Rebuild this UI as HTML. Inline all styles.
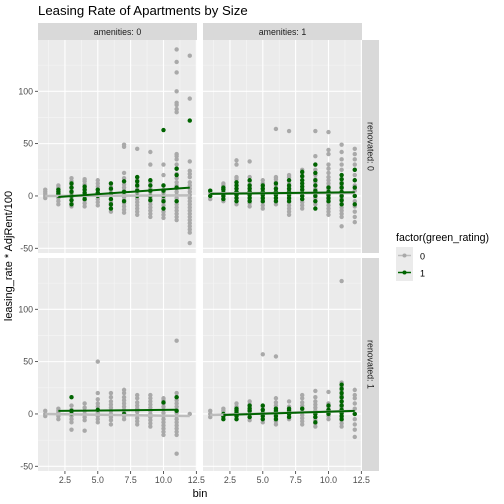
<!DOCTYPE html>
<html><head><meta charset="utf-8"><style>
body{margin:0;background:#fff}
svg{display:block;font-family:"Liberation Sans",sans-serif}
</style></head><body>
<svg id="c" width="504" height="504" viewBox="0 0 504 504">
<text x="38" y="15" font-size="13.2" fill="#000">Leasing Rate of Apartments by Size</text>
<text transform="translate(12,256) rotate(-90)" text-anchor="middle" font-size="11">leasing_rate * AdjRent/100</text>
<text x="200" y="497" text-anchor="middle" font-size="11">bin</text>
<g>
<text x="396" y="241" font-size="10.6">factor(green_rating)</text>
<rect x="396" y="247" width="17" height="17" fill="#ebebeb"/>
<line x1="398" y1="255.5" x2="411" y2="255.5" stroke="#bdbdbd" stroke-width="1.5"/>
<circle cx="404.5" cy="255.5" r="2" fill="#a9a9a9"/>
<text x="420" y="259.5" font-size="9">0</text>
<rect x="396" y="264" width="17" height="17" fill="#ebebeb"/>
<line x1="398" y1="272.5" x2="411" y2="272.5" stroke="#006400" stroke-width="1.5"/>
<circle cx="404.5" cy="272.5" r="2" fill="#006400"/>
<text x="420" y="276.5" font-size="9">1</text>
</g>
<g id="panels"></g>
</svg>
<script>
const xTicks=[2.5,5,7.5,10,12.5];
const xTickLabels=["2.5","5.0","7.5","10.0","12.5"];
const yTicks=[-50,0,50,100];
const yTickLabels=["-50","0","50","100"];
const colLabels=["amenities: 0","amenities: 1"];
const rowLabels=["renovated: 0","renovated: 1"];
const grayTL=[[1,[-2,0,2,4,6]],[2,[-8,-5,-2,0,2,4,6,8,10]],[3,[-10,-7,-4,-1,2,5,8,11,14,17]],[4,[-10,-7,-4,-1,2,5,8,11,14,16]],[5,[-9,-6,-3,0,3,6,9,12,15]],[6,[-15,-12,-9,-6,-3,0,3,6,9,12]],[7,[-16,-13,-10,-7,-4,-1,2,5,8,11,14,17,22,47,49]],[8,[-18,-15,-12,-9,-6,-3,0,3,6,9,12,15,18,45]],[9,[-20,-17,-14,-11,-8,-5,-2,1,4,7,10,13,15,30,42]],[10,[-21,-18,-15,-12,-9,-6,-3,0,3,6,10,20,30]],[11,[-23,-20,-17,-14,-11,-8,-5,-2,1,4,7,10,13,17,21,26,30,35,38,40,80,83,87,89,100,118,128,140]],[12,[-45,-35,-32,-29,-26,-23,-20,-17,-14,-11,-8,-5,-2,1,4,7,10,13,18,21,24,33,93,134]]];
const greenTL=[[2,[0,2,4,6]],[3,[-8,-4,0,4,8,12]],[4,[-3,0,3,6,9]],[5,[0,3,6]],[6,[-12,-8,-3,2,7,12]],[7,[-5,4,14]],[8,[0,5,10,14,18]],[9,[-4,0,5,10,15]],[10,[-12,-5,0,5,10,63]],[11,[-5,8,20,26]],[12,[72]]];
const grayTR=[[1,[-3,0,3,5]],[2,[-5,-2,1,4,7,10,12]],[3,[-8,-5,-2,1,4,7,10,13,16,18,30,34]],[4,[-10,-7,-4,-1,2,5,8,11,14,18,33]],[5,[-12,-9,-6,-3,0,3,6,9,12,15]],[6,[-8,-5,-2,1,4,7,10,13,16,18,64]],[7,[-18,-15,-12,-9,-6,-3,0,3,6,9,12,15,18,20,62]],[8,[-12,-9,-6,-3,0,3,6,9,12,15,18,22,25]],[9,[-8,-5,-2,1,4,7,10,13,16,20,25,30,38,62]],[10,[-18,-15,-12,-9,-6,-3,0,3,6,9,12,15,18,22,26,30,40,44,61]],[11,[-29,-20,-17,-14,-11,-8,-5,-2,1,4,7,10,13,16,20,25,30,35,42,49]],[12,[-25,-20,-15,-10,-5,0,5,10,15,20,25,30,35,40,45]]];
const greenTR=[[1,[0,5]],[2,[-3,0,3,6,8]],[3,[-5,-2,1,4,7,10,13]],[4,[-5,-2,1,4,7,10,15]],[5,[-5,-2,1,4,7,10]],[6,[-5,-2,1,4,7,12]],[7,[-5,-2,1,4,7,10,15]],[8,[-3,0,3,6,9,12,15,19,23]],[9,[-12,-5,0,5,10,15,22,30]],[10,[-5,-2,1,4,8]],[11,[-8,-4,0,4,8,12,16,20]],[12,[-8,0,8,15,25]]];
const grayBL=[[1,[-2,0,3]],[2,[-5,-2,1,3,5]],[3,[-15,-8,-5,-2,1,4,8]],[4,[-16,-6,-3,0,3,6,10]],[5,[-8,-5,-2,1,4,7,10,14,20,50]],[6,[-10,-6,-3,0,3,6,9,12,16,20]],[7,[-5,-2,1,4,7,10,13,16,20,23]],[8,[-10,-7,-4,-1,2,5,8,11,15,18]],[9,[-12,-9,-6,-3,0,3,6,9,12,15,18]],[10,[-20,-17,-14,-11,-8,-5,-2,1,4,7,10,13,15]],[11,[-38,-20,-17,-14,-11,-8,-5,-2,1,4,7,10,13,16,20,70]],[12,[0]]];
const greenBL=[[3,[0,3,16]],[5,[4]],[7,[0]],[10,[11]],[11,[3,16]]];
const grayBR=[[1,[-3,0,3]],[2,[-3,0,3,5]],[3,[-5,-2,1,4,7,10]],[4,[-6,-3,0,3,6,9,12]],[5,[-8,-5,-2,1,4,7,57]],[6,[-10,-7,-4,-1,2,5,8,11,15,55]],[7,[-5,-2,1,4,7,12]],[8,[-10,-7,-4,-1,2,5,8,11,15,18]],[9,[-12,-9,-6,-3,0,3,6,9,12,16,22]],[10,[-5,-2,1,4,7,10,21]],[11,[-12,-9,-6,-3,0,3,6,9,12,15,18,22,26,30,127]],[12,[-22,-15,-10,-5,0,5,10,15,18,23]]];
const greenBR=[[2,[-5,-2,0]],[3,[-5,-2,1,3,5]],[4,[-3,0,3,5,8]],[5,[-5,-2,1,4,8]],[6,[-5,-2,1,3,5]],[7,[-3,0,3,5]],[8,[5]],[9,[-8,-3,0]],[10,[0,4,8]],[11,[-5,-2,1,4,8,12,16,20,24,28]],[12,[0]]];
const fitGray=[[1,0,12,0.5],[1,2.5,12,3],[1,0,12,-2],[1,-1,12,3]];
const fitGreen=[[2,-1,12,8],[1,2,12,3.5],[2,3,11,4],[2,-1,12,3]];
const panelsData=[[grayTL,greenTL],[grayTR,greenTR],[grayBL,greenBL],[grayBR,greenBR]];

const NS="http://www.w3.org/2000/svg";
const root=document.getElementById('panels');
function mk(tag,attrs,parent){const e=document.createElementNS(NS,tag);for(const k in attrs)e.setAttribute(k,attrs[k]);(parent||root).appendChild(e);return e;}
const colX=[38,203],rowY=[40,258],PW=159,PH=213;
const xMin=0.45,xMax=12.55,yMin=-54.5,yMax=149;
for(let r=0;r<2;r++)for(let c=0;c<2;c++){
  const idx=r*2+c,x0=colX[c],y0=rowY[r];
  const sx=v=>x0+(v-xMin)/(xMax-xMin)*PW;
  const sy=v=>y0+PH-(v-yMin)/(yMax-yMin)*PH;
  const g=mk('g',{});
  
  
  mk('rect',{x:x0,y:y0,width:PW,height:PH,fill:'#ebebeb'},g);
  for(let i=0;i<xTicks.length;i++){const m=xTicks[i]-1.25;if(m>xMin&&m<xMax)mk('line',{x1:sx(m),x2:sx(m),y1:y0,y2:y0+PH,stroke:'#f6f6f6','stroke-width':0.6},g);}
  for(let i=0;i<yTicks.length;i++){const m=yTicks[i]+25;if(m<yMax)mk('line',{x1:x0,x2:x0+PW,y1:sy(m),y2:sy(m),stroke:'#f6f6f6','stroke-width':0.6},g);}
  xTicks.forEach(t=>{mk('line',{x1:sx(t),x2:sx(t),y1:y0,y2:y0+PH,stroke:'#fff','stroke-width':1.1},g);});
  yTicks.forEach(t=>{mk('line',{x1:x0,x2:x0+PW,y1:sy(t),y2:sy(t),stroke:'#fff','stroke-width':1.1},g);});
  const [gs,gr]=panelsData[idx];
  const fg=fitGray[idx],fr=fitGreen[idx];
  [[gs,'#a9a9a9','gray'],[gr,'#006400','green']].forEach(([set,col,nm])=>{
    set.forEach(([b,vals])=>vals.forEach(v=>{
      const p=mk('circle',{cx:sx(b),cy:sy(v),r:2.2,fill:col},g);
      
      
    }));
  });
  const l1=mk('line',{x1:sx(fg[0]),y1:sy(fg[1]),x2:sx(fg[2]),y2:sy(fg[3]),stroke:'#bdbdbd','stroke-width':2.5},g);
  
  
  const l2=mk('line',{x1:sx(fr[0]),y1:sy(fr[1]),x2:sx(fr[2]),y2:sy(fr[3]),stroke:'#006400','stroke-width':2},g);
  
  
  if(r===0){
    const s=mk('rect',{x:x0,y:23,width:PW,height:17,fill:'#d9d9d9'});
    
    
    const t=mk('text',{x:x0+PW/2,y:35,'text-anchor':'middle','font-size':'8.8',fill:'#1a1a1a'});t.textContent=colLabels[c];
  }
  if(c===1){
    const s=mk('rect',{x:362,y:y0,width:17,height:PH,fill:'#d9d9d9'});
    
    
    const t=mk('text',{transform:`translate(367.5,${y0+PH/2}) rotate(90)`,'text-anchor':'middle','font-size':'8.8',fill:'#1a1a1a'});t.textContent=rowLabels[r];
  }
  if(c===0){
    yTicks.forEach((t,i)=>{mk('line',{x1:x0-3,x2:x0,y1:sy(t),y2:sy(t),stroke:'#333','stroke-width':0.8});
      const tx=mk('text',{x:x0-5,y:sy(t)+3,'text-anchor':'end','font-size':'8.8',fill:'#4d4d4d'});tx.textContent=yTickLabels[i];});
  }
  if(r===1){
    xTicks.forEach((t,i)=>{mk('line',{x1:sx(t),x2:sx(t),y1:y0+PH,y2:y0+PH+3,stroke:'#333','stroke-width':0.8});
      const tx=mk('text',{x:sx(t),y:y0+PH+12,'text-anchor':'middle','font-size':'8.8',fill:'#4d4d4d'});tx.textContent=xTickLabels[i];});
  }
}
</script>
</body></html>
